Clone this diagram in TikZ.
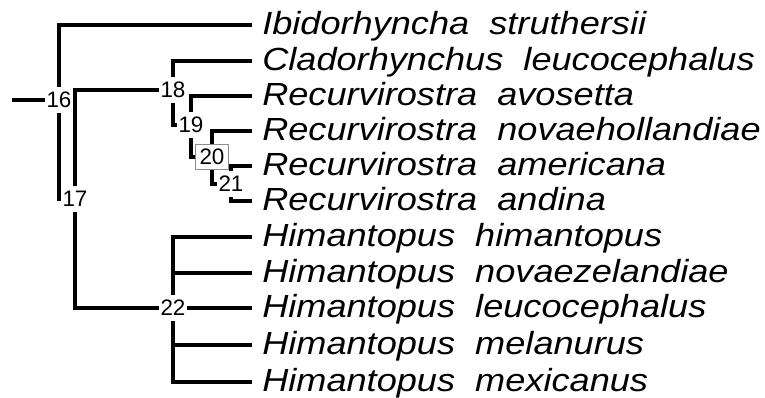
\documentclass[tikz,border=0pt]{standalone}
\usepackage{fontspec}
\setmainfont{Liberation Sans}
\newfontfamily\spfont{Liberation Sans}[FakeStretch=1.13]
\begin{document}
\begin{tikzpicture}[x=0.75pt,y=-0.75pt,
  branch/.style={draw=black, line width=3.3pt, line join=miter, line cap=butt},
  lab/.style={fill=white, inner xsep=1.5pt, inner ysep=3.6pt, text height=11.9pt, text depth=0pt,
              font=\fontsize{16.8}{18}\selectfont},
  boxlab/.style={lab, draw=black!45, line width=0.8pt, inner xsep=2.8pt},
  sp/.style={anchor=base west, inner sep=0pt, font=\spfont\itshape\fontsize{24}{28}\selectfont}]
\useasboundingbox (0,0) rectangle (765,398);
% tips
\coordinate (t1) at (252,25);
\coordinate (t2) at (252,61);
\coordinate (t3) at (252,96);
\coordinate (t4) at (252,131);
\coordinate (t5) at (252,166);
\coordinate (t6) at (252,201);
\coordinate (t7) at (252,237);
\coordinate (t8) at (252,273);
\coordinate (t9) at (252,308);
\coordinate (t10) at (252,345);
\coordinate (t11) at (252,382);
\coordinate (root) at (12,100);
% internal node positions
\coordinate (c16) at (59,100);
\coordinate (c17) at (75,199);
\coordinate (c18) at (173,90);
\coordinate (c19) at (191,125);
\coordinate (c20) at (212,157);
\coordinate (c21) at (231,184);
\coordinate (c22) at (173,308);
% branches
\draw[branch] (root) -- (c16);
\draw[branch] (t1) -| (c16) |- (c17);
\draw[branch] (c18) -| (c17) |- (c22);
\draw[branch] (t2) -| (c18) |- (c19);
\draw[branch] (t3) -| (c19) |- (c20);
\draw[branch] (t4) -| (c20) |- (c21);
\draw[branch] (t5) -| (c21) |- (t6);
\draw[branch] (t7) -| (c22) |- (t11);
\draw[branch] (c22 |- t8) -- (t8);
\draw[branch] (c22) -- (t9);
\draw[branch] (c22 |- t10) -- (t10);
% node labels
\node[lab] (n16) at (c16) {16};
\node[lab] (n17) at (c17) {17};
\node[lab] (n18) at (c18) {18};
\node[lab] (n19) at (c19) {19};
\node[boxlab] (n20) at (c20) {20};
\node[lab] (n21) at (c21) {21};
\node[lab] (n22) at (c22) {22};
% species
\node[sp] (s1) at (262,35) {Ibidorhyncha\ \ struthersii};
\node[sp] (s2) at (262,71) {Cladorhynchus\ \ leucocephalus};
\node[sp] (s3) at (262,106) {Recurvirostra\ \ avosetta};
\node[sp] (s4) at (262,141) {Recurvirostra\ \ novaehollandiae};
\node[sp] (s5) at (262,176) {Recurvirostra\ \ americana};
\node[sp] (s6) at (262,211) {Recurvirostra\ \ andina};
\node[sp] (s7) at (262,247) {Himantopus\ \ himantopus};
\node[sp] (s8) at (262,283) {Himantopus\ \ novaezelandiae};
\node[sp] (s9) at (262,318) {Himantopus\ \ leucocephalus};
\node[sp] (s10) at (262,355) {Himantopus\ \ melanurus};
\node[sp] (s11) at (262,392) {Himantopus\ \ mexicanus};
\end{tikzpicture}
\end{document}
